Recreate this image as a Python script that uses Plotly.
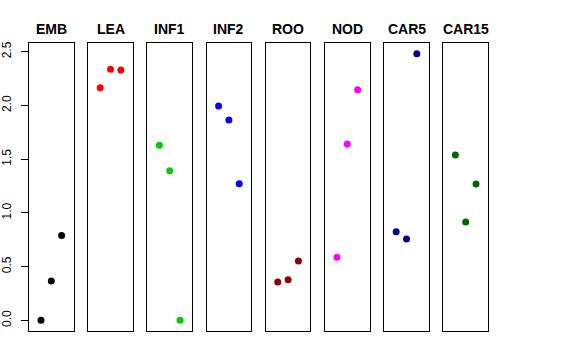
import plotly.graph_objects as go

groups = ["EMB", "LEA", "INF1", "INF2", "ROO", "NOD", "CAR5", "CAR15"]
colors = ["#000000", "#FF0000", "#00CD00", "#0000FF", "#8B0000", "#FF00FF", "#00008B", "#006400"]
positions = [1, 2, 3]
values = {
    "EMB": [0.0, 0.366, 0.791],
    "LEA": [2.166, 2.337, 2.331],
    "INF1": [1.629, 1.393, 0.0],
    "INF2": [1.995, 1.865, 1.272],
    "ROO": [0.357, 0.378, 0.552],
    "NOD": [0.587, 1.642, 2.147],
    "CAR5": [0.825, 0.757, 2.482],
    "CAR15": [1.539, 0.915, 1.269],
}
y_ticks = [0.0, 0.5, 1.0, 1.5, 2.0, 2.5]
y_tick_text = ["0.0", "0.5", "1.0", "1.5", "2.0", "2.5"]

W, H = 576, 360
fig = go.Figure()
layout = dict(
    width=W, height=H,
    margin=dict(l=0, r=0, t=0, b=0),
    paper_bgcolor="white", plot_bgcolor="white",
    showlegend=False,
    font=dict(family="Liberation Sans, Arial, sans-serif", size=12, color="black"),
)
ymin, ymax = 0.0, 2.48
ext = (ymax - ymin) * 0.04
yrange = [ymin - ext, ymax + ext]
xrange = [0 - 4 * 0.04, 4 + 4 * 0.04]
top_px, bot_px = 43.3, 331
ydom = [(H - bot_px) / H, (H - top_px) / H]
annotations = []
for i, g in enumerate(groups):
    left = 29 + 59.2 * i
    right = left + 44.6
    xd = [left / W, right / W]
    ax = "" if i == 0 else str(i + 1)
    fig.add_trace(go.Scatter(
        x=positions, y=values[g], mode="markers",
        marker=dict(color=colors[i], size=7),
        xaxis="x" + ax, yaxis="y" + ax, hoverinfo="skip",
    ))
    layout["xaxis" + ax] = dict(
        domain=xd, range=xrange, showgrid=False, zeroline=False,
        showticklabels=False, ticks="", showline=True, mirror=True,
        linecolor="black", linewidth=1, anchor="y" + ax, automargin=False,
    )
    yax = dict(
        domain=ydom, range=yrange, showgrid=False, zeroline=False,
        showline=True, mirror=True, linecolor="black", linewidth=1,
        anchor="x" + ax, automargin=False,
    )
    if i == 0:
        yax.update(tickvals=y_ticks, ticktext=y_tick_text, ticks="outside",
                   ticklen=7, tickcolor="black", tickangle=-90,
                   ticklabelstandoff=5, tickfont=dict(size=12))
    else:
        yax.update(showticklabels=False, ticks="")
    layout["yaxis" + ax] = yax
    annotations.append(dict(
        x=(left + right) / 2 / W, y=(H - 29) / H, xref="paper", yref="paper",
        text="<b>" + g + "</b>", showarrow=False, xanchor="center", yanchor="middle",
        font=dict(size=14, color="black"),
    ))
layout["annotations"] = annotations
fig.update_layout(**layout)
fig.write_html("out.html", config={"displayModeBar": False},
               post_script="document.body.style.margin='0';")
